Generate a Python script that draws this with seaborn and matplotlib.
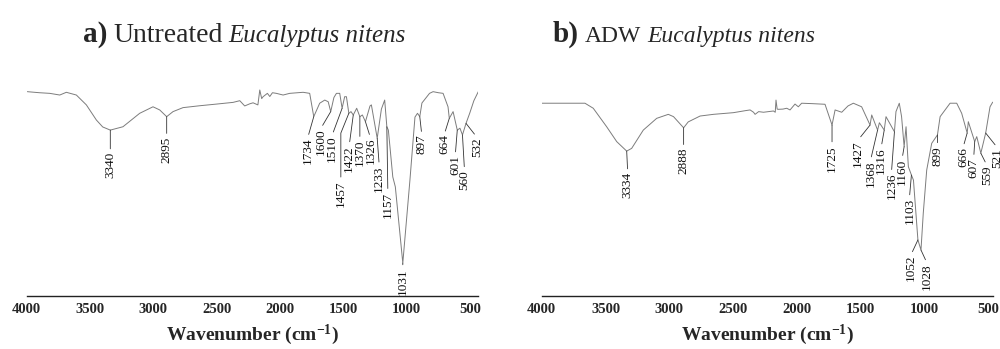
import matplotlib
matplotlib.use("Agg")
import matplotlib.pyplot as plt
import seaborn as sns
import pandas as pd

# ---------------- data ----------------
wn_a = [3995, 3900, 3818, 3739, 3687, 3608, 3529, 3450, 3400, 3340, 3240, 3108, 3003, 2950,
        2895, 2845, 2766, 2634, 2500, 2371, 2318, 2279, 2240, 2213, 2175, 2160, 2145, 2134,
        2100, 2081, 2060, 2029, 1976, 1924, 1818, 1766, 1734, 1687, 1647, 1620, 1600, 1575,
        1555, 1529, 1510, 1490, 1476, 1457, 1440, 1422, 1395, 1370, 1350, 1326, 1290, 1279,
        1233, 1200, 1174, 1157, 1145, 1130, 1110, 1090, 1031, 975, 935, 915, 897, 880,
        820, 792, 750, 713, 674, 664, 634, 601, 580, 560, 532, 503, 470, 435]
t_a = [97.3, 96.8, 96.5, 95.7, 97.0, 95.7, 91.0, 83.8, 80.5, 79.0, 80.6, 87.0, 90.1, 88.6,
       85.4, 87.8, 89.7, 90.6, 91.4, 92.2, 93.0, 90.5, 91.5, 92.0, 91.0, 98.1, 94.0, 94.9,
       96.5, 95.0, 96.8, 96.5, 95.7, 96.5, 97.0, 96.5, 85.4, 91.8, 93.3, 92.5, 87.8, 94.5,
       96.5, 96.5, 89.4, 94.9, 94.9, 87.0, 87.8, 86.2, 89.4, 85.4, 86.2, 83.0, 90.5, 91.0,
       75.1, 89.0, 93.3, 80.6, 79.0, 69.5, 56.7, 52.0, 15.7, 55.0, 85.2, 87.0, 85.4, 91.9,
       96.5, 97.3, 96.8, 96.5, 90.1, 84.6, 87.8, 79.0, 79.9, 76.7, 82.2, 87.0, 93.0, 97.3]

wn_b = [4000, 3800, 3661, 3596, 3491, 3412, 3334, 3295, 3204, 3099, 3008, 2967, 2888, 2852,
        2759, 2655, 2498, 2400, 2367, 2340, 2328, 2300, 2262, 2184, 2170, 2164, 2155, 2146,
        2110, 2080, 2054, 2015, 1989, 1963, 1880, 1780, 1725, 1701, 1649, 1600, 1558, 1493,
        1427, 1414, 1368, 1354, 1316, 1302, 1236, 1224, 1198, 1180, 1160, 1145, 1127, 1103,
        1087, 1052, 1028, 1010, 983, 944, 899, 878, 800, 748, 709, 666, 657, 607, 591, 559,
        521, 487, 466]
t_b = [91.8, 91.8, 91.8, 89.4, 80.6, 73.5, 69.0, 70.3, 79.0, 84.6, 86.5, 85.4, 80.1, 82.9,
       85.7, 86.5, 87.3, 88.3, 88.6, 87.5, 86.5, 87.8, 87.5, 88.1, 87.5, 93.3, 89.0, 88.9,
       89.0, 89.4, 88.6, 91.4, 90.1, 91.8, 91.6, 91.3, 81.4, 88.6, 87.5, 90.5, 91.8, 90.1,
       81.4, 86.2, 79.0, 82.5, 79.0, 85.4, 78.2, 87.8, 91.8, 85.4, 71.1, 80.6, 61.6, 57.6,
       55.2, 26.7, 21.9, 39.5, 60.0, 72.7, 76.7, 85.4, 91.8, 91.8, 87.0, 77.6, 83.0, 73.5,
       75.9, 68.0, 77.6, 90.1, 92.3]

peaks_a = [3340, 2895, 1734, 1600, 1510, 1457, 1422, 1370, 1326, 1233, 1157, 1031, 897,
           664, 601, 560, 532]
peaks_b = [3334, 2888, 1725, 1427, 1368, 1316, 1236, 1160, 1103, 1052, 1028, 899, 666,
           607, 559, 521]

xticks = [4000, 3500, 3000, 2500, 2000, 1500, 1000, 500]

# ---------------- layout (label offsets in pixels: dx right, dy down; optional bend angle) ----------------
offs_a = [(0, 22, None), (0, 20, None), (-6, 21, None), (-10, 17, None), (-10, 27, None),
          (-8, 67, 68), (-4, 30, None), (0, 23, None), (5, 16, None), (2, 27, None),
          (1, 65, None), (0, 5, None), (2, 18, None), (-5, 16, None), (-2, 25, None),
          (2, 35, None), (11, 14, None)]
offs_b = [(1, 21, None), (0, 20, None), (0, 20, None), (-12, 15, None), (-7, 30, None),
          (-3, 17, None), (-3, 41, None), (-2, 12, None), (-2, 23, None), (-7, 15, None),
          (6, 13, None), (0, 11, None), (-4, 14, None), (-1, 16, None), (6, 12, None),
          (12, 15, None)]

sns.set_style("white")
plt.rcParams["font.family"] = ["Liberation Serif", "DejaVu Serif"]
plt.rcParams["mathtext.fontset"] = "custom"
plt.rcParams["mathtext.rm"] = "Liberation Serif"
plt.rcParams["mathtext.bf"] = "Liberation Serif:bold"
plt.rcParams["mathtext.it"] = "Liberation Serif:italic"

W, H = 1000, 349
fig = plt.figure(figsize=(W / 100, H / 100), dpi=100)

axA = fig.add_axes([26.7 / W, 1 - 296 / H, 451.6 / W, 210 / H])
axB = fig.add_axes([541.7 / W, 1 - 296 / H, 451.0 / W, 210 / H])

line_col = "#7c7c7c"


def draw_panel(ax, wn, t, peaks, offs, xmax_right):
    df = pd.DataFrame({"wn": wn, "T": t})
    sns.lineplot(data=df, x="wn", y="T", ax=ax, color=line_col, lw=0.7,
                 estimator=None, sort=False)
    ax.set_xlim(4000, xmax_right)
    ax.set_ylim(0, 100)
    for s in ["left", "top", "right"]:
        ax.spines[s].set_visible(False)
    ax.spines["bottom"].set_linewidth(1.0)
    ax.spines["bottom"].set_color("#222222")
    ax.set_yticks([])
    ax.set_ylabel("")
    ax.set_xticks(xticks)
    ax.set_xticklabels([str(v) for v in xticks], fontweight="bold")
    ax.tick_params(axis="x", direction="out", length=3, width=0.8, labelsize=10.5,
                   pad=2, color="#222222")
    ax.set_xlabel(r"Wavenumber (cm$^{\mathbf{-1}}$)", fontsize=14, fontweight="bold",
                  labelpad=5)
    lookup = dict(zip(wn, t))
    for p, (dx, dy, bend) in zip(peaks, offs):
        props = dict(arrowstyle="-", lw=0.6, color="#333333",
                     shrinkA=0, shrinkB=0, relpos=(0.5, 1.0))
        if bend is not None:
            props["connectionstyle"] = f"angle,angleA=90,angleB={bend},rad=0"
        ax.annotate(str(p), xy=(p, lookup[p]), xytext=(dx * 0.72, -dy * 0.72),
                    textcoords="offset points", rotation=90, ha="center", va="top",
                    fontsize=9.5, color="#111111", arrowprops=props)


draw_panel(axA, wn_a, t_a, peaks_a, offs_a, 435)
draw_panel(axB, wn_b, t_b, peaks_b, offs_b, 466)

# titles: pieces flowed left to right
renderer = fig.canvas.get_renderer()


def flow_title(x_px, pieces, gap_px=6):
    x = x_px
    for text, kw in pieces:
        t = fig.text(x / W, 1 - 42 / H, text, ha="left", va="baseline", **kw)
        bb = t.get_window_extent(renderer)
        x = bb.x1 + gap_px


flow_title(83, [("a)", dict(fontsize=21, fontweight="bold")),
                ("Untreated", dict(fontsize=20)),
                ("Eucalyptus nitens", dict(fontsize=18, style="italic"))])
flow_title(553, [("b)", dict(fontsize=21, fontweight="bold")),
                 ("ADW", dict(fontsize=17)),
                 ("Eucalyptus nitens", dict(fontsize=17, style="italic"))])

fig.savefig("out.png", dpi=100)
